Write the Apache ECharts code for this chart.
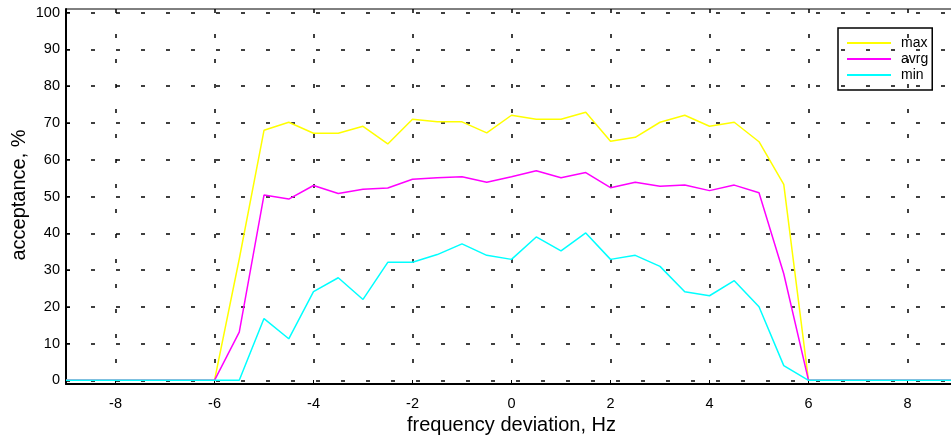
<!DOCTYPE html>
<html>
<head>
<meta charset="utf-8">
<script src="https://cdn.jsdelivr.net/npm/echarts@6/dist/echarts.min.js"></script>
<style>
html,body{margin:0;padding:0;background:#fff;overflow:hidden;}
#chart{width:960px;height:444px;}
</style>
</head>
<body>
<div id="chart"></div>
<script>
var xValues = [-9,-8.5,-8,-7.5,-7,-6.5,-6,-5.5,-5,-4.5,-4,-3.5,-3,-2.5,-2,-1.5,-1,-0.5,0,0.5,1,1.5,2,2.5,3,3.5,4,4.5,5,5.5,6,6.5,7,7.5,8,8.5,9];
var maxValues = [0,0,0,0,0,0,0,33,68,70.2,67.2,67.2,69.1,64.3,71,70.3,70.3,67.3,72.1,71,71,72.9,65,66.1,70.2,72.1,69.1,70.2,64.9,53.3,0,0,0,0,0,0,0];
var avrgValues = [0,0,0,0,0,0,0,13.1,50.4,49.3,53.0,50.8,52.0,52.3,54.7,55.1,55.4,53.9,55.4,57.0,55.1,56.5,52.4,53.9,52.8,53.1,51.6,53.1,51.0,29,0,0,0,0,0,0,0];
var minValues = [0,0,0,0,0,0,0,0,16.8,11.3,24.1,27.9,22.0,32.1,32.1,34.2,37.1,34.0,32.9,39.0,35.2,40.1,32.9,34.0,31.0,24.1,23.0,27.1,20.0,4.0,0,0,0,0,0,0,0];
var seriesNames = ['max','avrg','min'];
var seriesColors = ['#ffff00','#ff00ff','#00ffff'];
var xTicks = [-8,-6,-4,-2,0,2,4,6,8];
var yTicks = [0,10,20,30,40,50,60,70,80,90,100];
var yTitle = 'acceptance, %';
var xTitle = 'frequency deviation, Hz';

function pairs(vals){ return xValues.map(function(x,i){ return [x, vals[i]]; }); }

var chart = echarts.init(document.getElementById('chart'), null, {renderer:'canvas'});
var font = 'Liberation Sans, Arial, sans-serif';
var gridLine = {show:true, lineStyle:{color:'#000', width:1.5, type:[4,21], dashOffset:0}};
chart.setOption({
  animation:false,
  backgroundColor:'#fff',
  grid:{left:66, width:891, top:9, bottom:60, outerBoundsMode:'none', containLabel:false, show:true, borderColor:'#000', borderWidth:1, backgroundColor:'transparent'},
  graphic:[{
    type:'text', x:19.5, y:195, rotation:Math.PI/2,
    style:{text:yTitle, fontFamily:font, fontSize:20, fill:'#000', align:'center', verticalAlign:'middle'}
  }],
  xAxis:{
    type:'value', min:-9, max:9,
    name:xTitle, nameLocation:'middle', nameGap:31,
    nameTextStyle:{fontFamily:font, fontSize:20, color:'#000'},
    axisLine:{show:true, onZero:false, lineStyle:{color:'#000', width:2}},
    axisTick:{show:true, inside:true, length:4, customValues:xTicks, lineStyle:{color:'#000'}},
    axisLabel:{customValues:xTicks, fontFamily:font, fontSize:14.5, color:'#000', margin:12},
    splitLine:gridLine
  },
  yAxis:{
    type:'value', min:-1, max:101,
    axisLine:{show:true, onZero:false, lineStyle:{color:'#000', width:2}},
    axisTick:{show:true, inside:true, length:4, customValues:yTicks, lineStyle:{color:'#000'}},
    axisLabel:{customValues:yTicks, fontFamily:font, fontSize:14.5, color:'#000', margin:6},
    splitLine:gridLine
  },
  legend:{
    orient:'vertical', left:838, top:28,
    padding:[7,4,7,9], itemGap:0, itemWidth:44, itemHeight:2,
    borderColor:'#000', borderWidth:1.5,
    icon:'rect',
    data:seriesNames,
    textStyle:{fontFamily:font, fontSize:14, color:'#000', lineHeight:16, padding:[0,0,0,5]}
  },
  series:seriesNames.map(function(n,i){
    var vals = [maxValues, avrgValues, minValues][i];
    return {
      name:n, type:'line', data:pairs(vals), showSymbol:false, symbol:'none',
      lineStyle:{color:seriesColors[i], width:1.5}, itemStyle:{color:seriesColors[i]},
      z:2+i
    };
  })
});
</script>
</body>
</html>
